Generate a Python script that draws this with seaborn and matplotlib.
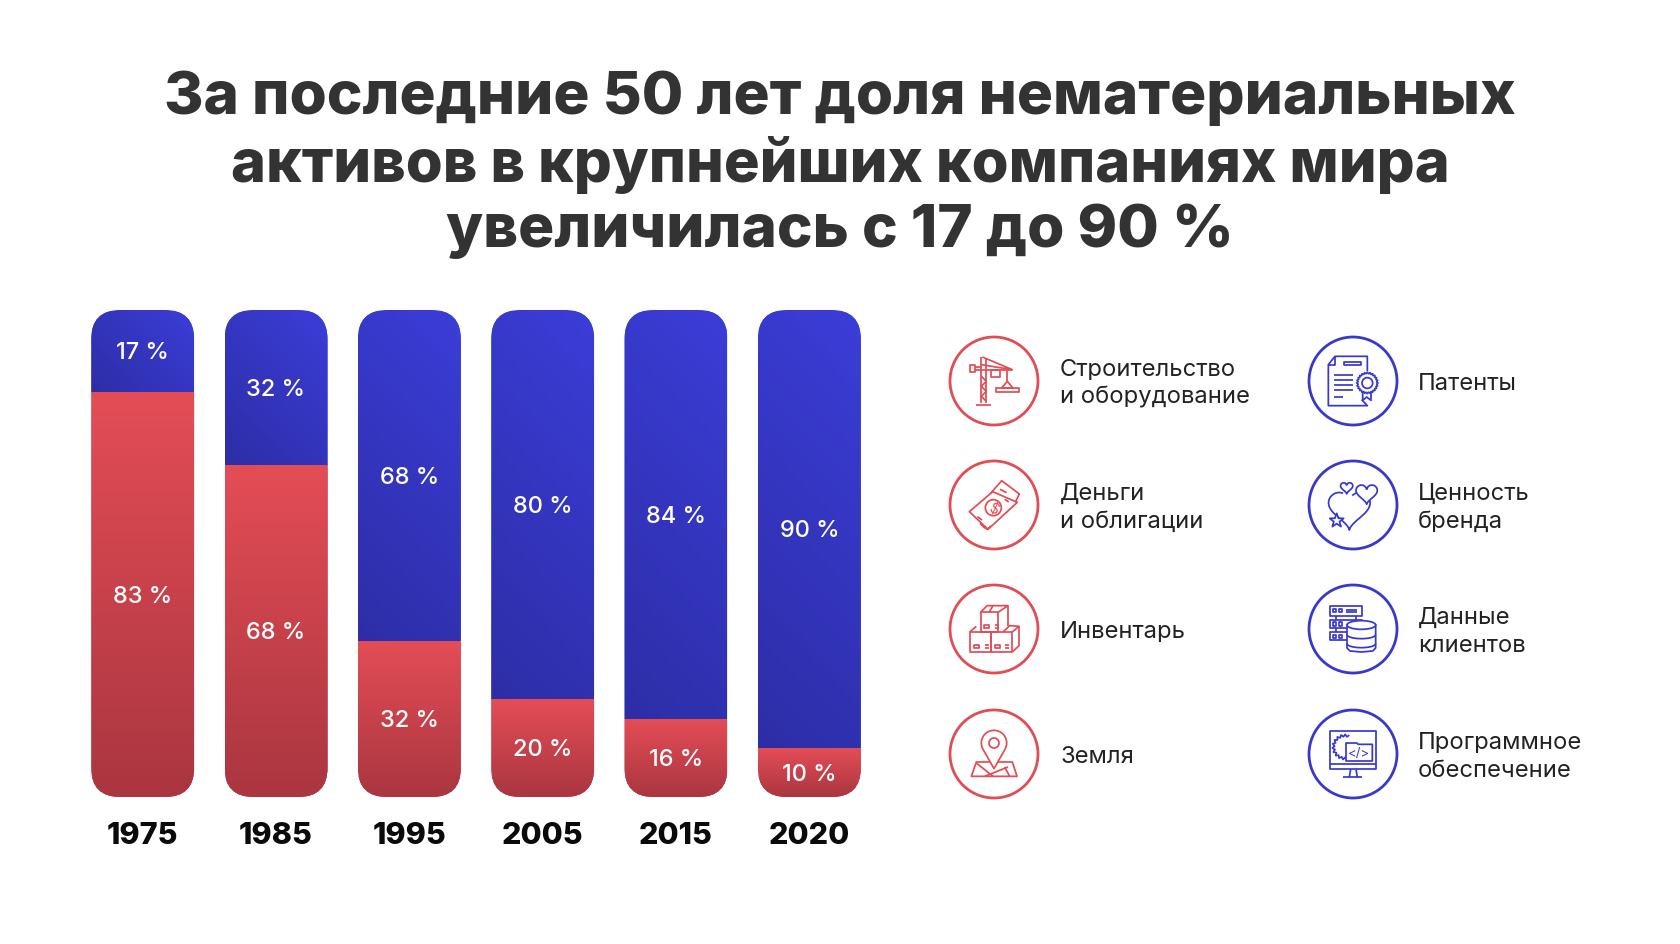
import numpy as np
import matplotlib
matplotlib.use('Agg')
import matplotlib.pyplot as plt
from matplotlib.colors import LinearSegmentedColormap
from matplotlib.patches import FancyBboxPatch, Circle, Polygon, Ellipse
import seaborn as sns

# data
years = ['1975', '1985', '1995', '2005', '2015', '2020']
intangible = [17, 32, 68, 80, 84, 90]
tangible = [83, 68, 32, 20, 16, 10]
title_lines = ['За последние 50 лет доля нематериальных',
               'активов в крупнейших компаниях мира',
               'увеличилась с 17 до 90 %']
red_labels = ['Строительство\nи оборудование', 'Деньги\nи облигации', 'Инвентарь', 'Земля']
blue_labels = ['Патенты', 'Ценность\nбренда', 'Данные\nклиентов', 'Программное\nобеспечение']

RED = '#E24C55'
BLUE = '#3739CE'
FONT = ['Inter', 'DejaVu Sans']

sns.set_theme(style='white')
plt.rcParams['font.family'] = FONT

W, H = 1680, 945
fig = plt.figure(figsize=(16.8, 9.45), dpi=100, facecolor='white')

# bars, axes placed so one x unit is 133.33 px and 100 % is 487 px
ax = fig.add_axes([76 / W, (H - 798) / H, 800 / W, 487 / H])
totals = [a + b for a, b in zip(intangible, tangible)]
bar_w = 0.7725
sns.barplot(x=years, y=totals, color=BLUE, width=bar_w, saturation=1, ax=ax)
sns.barplot(x=years, y=tangible, color=RED, width=bar_w, saturation=1, ax=ax)
ax.set_xlim(-0.5, 5.5)
ax.set_ylim(0, 100)
ax.set_ylabel('')
ax.set_xlabel('')
ax.set_yticks([])
ax.tick_params(axis='x', length=0, pad=17)
for lab in ax.get_xticklabels():
    lab.set_fontsize(22)
    lab.set_fontweight(800)
    lab.set_color('#0a0a0a')
sns.despine(ax=ax, left=True, bottom=True)

red_cmap = LinearSegmentedColormap.from_list('r', ['#E44D56', '#AA3640'])
blue_cmap = LinearSegmentedColormap.from_list('b', ['#3B3DD8', '#2D2EA6'])

yy, xx = np.mgrid[0:1:200j, 0:1:60j]
red_grad = yy
for i, y_val in enumerate(years):
    x0, x1 = i - bar_w / 2, i + bar_w / 2
    # rounded outline of the whole column, y stretched back with mutation_aspect
    clip = FancyBboxPatch((x0, 0), bar_w, totals[i],
                          boxstyle='round,pad=0,rounding_size=0.22',
                          mutation_aspect=(800 / 6) / 4.87,
                          transform=ax.transData)
    # blue gradient runs diagonally, from top right to bottom left
    h_px = intangible[i] * 4.87
    blue_grad = (yy * h_px + (1 - xx) * 103) / (h_px + 103)
    im_b = ax.imshow(blue_grad, cmap=blue_cmap, vmin=0, vmax=1, aspect='auto', zorder=3,
                     extent=(x0, x1, tangible[i], totals[i]), origin='upper')
    im_r = ax.imshow(red_grad, cmap=red_cmap, vmin=0, vmax=1, aspect='auto', zorder=3,
                     extent=(x0, x1, 0, tangible[i]), origin='upper')
    im_b.set_clip_path(clip)
    im_r.set_clip_path(clip)
    for p in (ax.patches[i], ax.patches[i + len(years)]):
        p.set_clip_path(clip)
    ax.text(i, tangible[i] + intangible[i] / 2 - 0.2, f'{intangible[i]} %', color='white',
            ha='center', va='center', fontsize=17, fontweight='medium', zorder=5)
    ax.text(i, tangible[i] / 2 - 0.2, f'{tangible[i]} %', color='white',
            ha='center', va='center', fontsize=17, fontweight='medium', zorder=5)
ax.set_xlim(-0.5, 5.5)
ax.set_ylim(0, 100)

# overlay in pixel coords for title, legend and icons
ov = fig.add_axes([0, 0, 1, 1], facecolor='none')
ov.set_xlim(0, W)
ov.set_ylim(H, 0)
ov.axis('off')

for line, y, fs in zip(title_lines, [98, 165, 231], [43.3, 42.9, 43.3]):
    ov.text(840, y, line, ha='center', va='center', fontsize=fs,
            fontweight=800, color='#333333')

centres_y = [382, 506, 630, 755]
for x_c, x_t, labels, col in [(994, 1060, red_labels, RED), (1353, 1418, blue_labels, BLUE)]:
    for y, lab in zip(centres_y, labels):
        ov.add_patch(Circle((x_c, y), 44, fill=False, ec=col, lw=2.0))
        ov.text(x_t, y + 2, lab, ha='left', va='center', fontsize=17.1, color='#222222',
                linespacing=1.34)


class Icon:
    def __init__(self, cx, cy, ox, oy, col):
        self.cx, self.cy, self.ox, self.oy, self.col = cx, cy, ox, oy, col

    def pt(self, x, y):
        return self.cx + (x - self.ox) / 3, self.cy + (y - self.oy) / 3

    def line(self, *pts, closed=False, fill=False, z=4):
        xy = [self.pt(*p) for p in pts]
        ov.add_patch(Polygon(xy, closed=closed, fc='white' if fill else 'none',
                             ec=self.col, lw=1.25, zorder=z, joinstyle='round'))

    def rect(self, x0, y0, x1, y1, fill=False, z=4):
        self.line((x0, y0), (x1, y0), (x1, y1), (x0, y1), closed=True, fill=fill, z=z)

    def circle(self, x, y, r, fill=False, z=4):
        ov.add_patch(Circle(self.pt(x, y), r / 3, fc='white' if fill else 'none',
                            ec=self.col, lw=1.25, zorder=z))

    def ellipse(self, x, y, w, h, fill=False, z=4):
        ov.add_patch(Ellipse(self.pt(x, y), w / 3, h / 3, fc='white' if fill else 'none',
                             ec=self.col, lw=1.25, zorder=z))


# crane
c = Icon(994, 382, 193, 184, RED)
c.line((155, 250), (155, 112))
c.line((170, 250), (170, 118))
c.line((155, 135), (248, 150), (158, 112))
c.rect(120, 137, 135, 158)
c.line((135, 142), (155, 142))
c.line((135, 152), (248, 152))
c.rect(185, 152, 210, 172)
c.line((155, 170), (170, 185), (155, 200), (170, 215), (155, 230), (170, 245))
c.line((140, 256), (185, 256))
c.line((233, 152), (233, 185))
c.line((233, 185), (216, 205), (250, 205), closed=True)
c.rect(200, 205, 268, 216)

# money
c = Icon(994, 506, 102, 105, RED)
c.line((92, 70), (125, 32), (178, 72), (166, 97))
c.line((60, 160), (72, 172), (82, 178), (92, 168))
c.line((28, 125), (98, 65), (172, 97), (84, 178), closed=True)
c.circle(100, 113, 24, fill=True, z=5)
ov.text(*c.pt(100, 113), '$', color=RED, fontsize=10, ha='center', va='center',
        rotation=-25, zorder=6)
c.line((52, 140), (66, 150))
c.line((134, 88), (146, 96))
c.line((120, 58), (140, 68))

# boxes
c = Icon(994, 630, 193, 178, RED)
c.rect(153, 128, 205, 187)
c.line((153, 128), (172, 108), (235, 108), (205, 128))
c.line((235, 108), (235, 168))
c.line((190, 108), (178, 128))
c.rect(120, 187, 185, 247)
c.rect(185, 187, 248, 247)
c.line((120, 187), (140, 170))
c.line((248, 187), (268, 170), (268, 228), (248, 247))
c.line((220, 187), (240, 168), (268, 170))
for x0, y0 in [(163, 165), (133, 225), (195, 225)]:
    c.rect(x0, y0, x0 + 16, y0 + 10)
    c.line((x0 + 32, y0 + 1), (x0 + 44, y0 + 1))
    c.line((x0 + 32, y0 + 9), (x0 + 44, y0 + 9))

# map pin
c = Icon(994, 755, 193, 551, RED)
c.line((140, 575), (248, 575), (262, 618), (125, 618), closed=True)
c.line((140, 578), (190, 618))
c.line((165, 618), (235, 590))
c.line((225, 590), (240, 618))
t = np.linspace(np.radians(-28), np.radians(208), 40)
pin = [(193 + 38 * np.cos(a), 518 - 38 * np.sin(a)) for a in t]
c.line(*pin, (193, 595), closed=True, fill=True, z=5)
c.circle(193, 518, 15, z=6)

# patent
c = Icon(1353, 382, 189, 184, BLUE)
c.line((215, 240), (232, 258), (115, 258), (115, 135), (135, 110), (232, 110), (232, 155))
c.line((115, 135), (135, 135), (135, 110))
c.rect(163, 127, 212, 137)
for y in [165, 180, 195, 210]:
    c.line((133, y), (190, y))
c.line((133, 232), (160, 232))
c.line((218, 210), (218, 242), (230, 232), (243, 242), (243, 210))
a = np.linspace(0, 2 * np.pi, 49)
seal = [(232 + (32 - 4 * (k % 2)) * np.cos(v), 190 + (32 - 4 * (k % 2)) * np.sin(v))
        for k, v in enumerate(a[:-1])]
c.line(*seal, closed=True, fill=True, z=5)
c.circle(232, 190, 16, z=6)


def heart(icon, x, y, s, lo=0.0, hi=2 * np.pi, fill=False, z=4):
    t = np.linspace(lo, hi, 60)
    pts = [(x + s * 16 * np.sin(v) ** 3,
            y - s * (13 * np.cos(v) - 5 * np.cos(2 * v) - 2 * np.cos(3 * v) - np.cos(4 * v)))
           for v in t]
    icon.line(*pts, fill=fill, z=z)


# hearts
c = Icon(1353, 506, 189, 556, BLUE)
heart(c, 178, 565, 3.9, 0.55, 5.55)
heart(c, 230, 520, 2.0, fill=True, z=5)
heart(c, 170, 503, 1.15)
st = [(140 + (22 if k % 2 == 0 else 9) * np.sin(k * np.pi / 5),
       603 - (22 if k % 2 == 0 else 9) * np.cos(k * np.pi / 5)) for k in range(10)]
c.line(*st, closed=True, fill=True, z=5)

# servers and disk
c = Icon(1353, 630, 189, 178, BLUE)
for y0, y1 in [(110, 138), (150, 176), (188, 212)]:
    c.rect(120, y0, 215, y1)
    c.rect(128, y0 + 8, 138, y0 + 18)
    c.rect(147, y0 + 8, 157, y0 + 18)
c.line((168, 120), (200, 120))
c.line((168, 128), (200, 128))
for x in [138, 197]:
    c.line((x, 138), (x, 150))
    c.line((x, 176), (x, 188))
c.line((171, 165), (171, 235), (180, 244), (214, 247), (248, 244), (257, 235), (257, 165),
       closed=True, fill=True, z=5)
c.ellipse(214, 166, 86, 26, fill=True, z=6)
for y in [195, 222]:
    t = np.linspace(np.pi, 2 * np.pi, 20)
    c.line(*[(214 + 43 * np.cos(v), y - 12 * np.sin(v)) for v in t], z=6)

# monitor
c = Icon(1353, 755, 189, 551, BLUE)
c.rect(120, 482, 257, 597)
c.line((120, 580), (257, 580))
c.line((182, 597), (178, 620))
c.line((198, 597), (202, 620))
c.line((160, 620), (217, 620))
gear = np.linspace(np.radians(70), np.radians(280), 23)
c.line(*[(165 + (38 - 7 * (k % 2)) * np.cos(v), 530 - (38 - 7 * (k % 2)) * np.sin(v))
         for k, v in enumerate(gear)])
c.line((168, 572), (168, 518), (200, 518), (205, 522), (247, 522), (247, 572), closed=True,
       fill=True, z=5)
ov.text(*c.pt(208, 547), '</>', color=BLUE, fontsize=9.5, ha='center', va='center', zorder=6)

fig.savefig('out.png', dpi=100, facecolor='white')
